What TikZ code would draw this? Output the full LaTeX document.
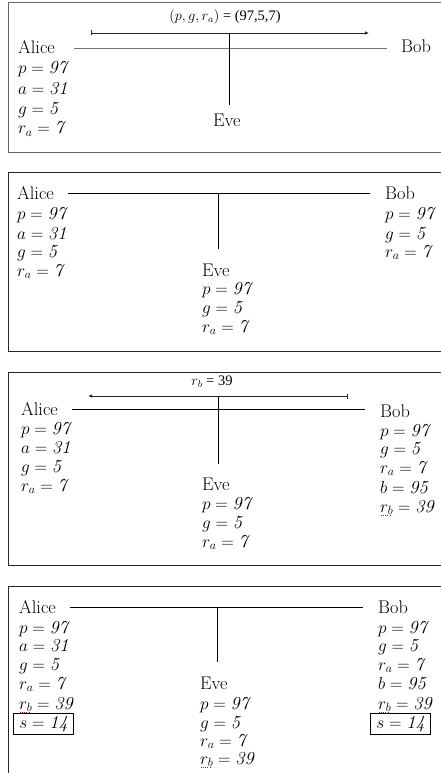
\documentclass[tikz,border=0pt]{standalone}
\usepackage{fontspec}
\newfontfamily\lblfont{Liberation Serif}
\usetikzlibrary{arrows.meta}
% red dotted spelling mark under a math symbol
\newcommand\spellmark[1]{\setbox0\hbox{$#1$}\rlap{\color{red!85!black}\raisebox{-4pt}{\hbox to \wd0{\leaders\hbox to 2.2pt{\hss\rule{1.1pt}{0.9pt}\hss}\hfill}}}\box0}
\newcommand\rb{\spellmark{r_b}}
\begin{document}
\begin{tikzpicture}[x=1pt,y=-1pt,
  every node/.style={inner sep=0pt},
  txt/.style={anchor=base west, font=\fontsize{18.3}{21}\selectfont},
  lbl/.style={anchor=center, font=\fontsize{14.5}{16}\selectfont\lblfont},
  frame/.style={line width=0.9pt, draw=black!85},
  wire/.style={line width=0.9pt, draw=black},
  msg/.style={line width=0.8pt, draw=black!85},
  secret/.style={txt, draw, line width=0.8pt, inner xsep=6pt, inner ysep=2.5pt, text height=12.5pt, text depth=4pt}]
\useasboundingbox (0,0) rectangle (441,773);

% ---------- frames ----------
\draw[frame, draw=black!60] (441,2) -- (8,2) -- (8,152) -- (441,152);
\draw[frame] (441,172.6) -- (8,172.6) -- (8,351) -- (441,351);
\draw[frame] (441,372) -- (8,372) -- (8,565) -- (441,565);
\draw[frame] (441,586) -- (8,586) -- (8,773);

% ---------- step 1: Alice sends (p,g,r_a) ----------
\node[lbl] (m1) at (225,17) {$(p, g, r_a)$ = (97,5,7)};
\coordinate (m1s) at (91,33);
\coordinate (m1e) at (369,33);
\draw[msg, {Bar[width=5pt]}-{Latex[length=4pt,width=3.5pt]}] (m1s) -- (m1e);
\coordinate (w1a) at (74,48);
\coordinate (w1b) at (387,48);
\draw[wire, draw=black!55] (w1a) -- (w1b);
\coordinate (t1) at (229,33);
\coordinate (b1) at (229,105);
\draw[wire] (t1) -- (b1);
\node[txt] (A1) at (18,54) {Alice};
\node[txt] (A1p) at (18,74) {$p = \mathit{97}$};
\node[txt] (A1a) at (18,95) {$a = \mathit{31}$};
\node[txt] (A1g) at (18,114) {$g = \mathit{5}$};
\node[txt] (A1r) at (18,134) {$r_a = \mathit{7}$};
\node[txt] (E1) at (213,126) {Eve};
\node[txt] (B1) at (401,53) {Bob};

% ---------- step 2: everyone knows (p,g,r_a) ----------
\coordinate (w2a) at (68,193);
\coordinate (w2b) at (370,193);
\draw[wire] (w2a) -- (w2b);
\coordinate (t2) at (218,193);
\coordinate (b2) at (218,249);
\draw[wire] (t2) -- (b2);
\node[txt] (A2) at (17,199) {Alice};
\node[txt] (A2p) at (17,219) {$p = \mathit{97}$};
\node[txt] (A2a) at (17,239) {$a = \mathit{31}$};
\node[txt] (A2g) at (17,257) {$g = \mathit{5}$};
\node[txt] (A2r) at (17,276) {$r_a = \mathit{7}$};
\node[txt] (E2) at (202,276) {Eve};
\node[txt] (E2p) at (202,294) {$p = \mathit{97}$};
\node[txt] (E2g) at (202,313) {$g = \mathit{5}$};
\node[txt] (E2r) at (202,332) {$r_a = \mathit{7}$};
\node[txt] (B2) at (385,199) {Bob};
\node[txt] (B2p) at (385,219) {$p = \mathit{97}$};
\node[txt] (B2g) at (385,239) {$g = \mathit{5}$};
\node[txt] (B2r) at (385,257) {$r_a = \mathit{7}$};

% ---------- step 3: Bob sends r_b ----------
\node[lbl] (m3) at (212,382) {$r_b$ = 39};
\coordinate (m3s) at (348,396);
\coordinate (m3e) at (88,396);
\draw[msg, {Bar[width=5pt]}-{Latex[length=4pt,width=3.5pt]}] (m3s) -- (m3e);
\coordinate (w3a) at (72,409);
\coordinate (w3b) at (365,409);
\draw[wire] (w3a) -- (w3b);
\coordinate (t3) at (218,396);
\coordinate (b3) at (218,464);
\draw[wire] (t3) -- (b3);
\node[txt] (A3) at (21,415) {Alice};
\node[txt] (A3p) at (21,434) {$p = \mathit{97}$};
\node[txt] (A3a) at (21,453) {$a = \mathit{31}$};
\node[txt] (A3g) at (21,472) {$g = \mathit{5}$};
\node[txt] (A3r) at (21,491) {$r_a = \mathit{7}$};
\node[txt] (E3) at (202,490) {Eve};
\node[txt] (E3p) at (202,509) {$p = \mathit{97}$};
\node[txt] (E3g) at (202,528) {$g = \mathit{5}$};
\node[txt] (E3r) at (202,547) {$r_a = \mathit{7}$};
\node[txt] (B3) at (380,417) {Bob};
\node[txt] (B3p) at (380,436) {$p = \mathit{97}$};
\node[txt] (B3g) at (380,454) {$g = \mathit{5}$};
\node[txt] (B3r) at (380,473) {$r_a = \mathit{7}$};
\node[txt] (B3b) at (380,493) {$b = \mathit{95}$};
\node[txt] (B3s) at (380,512) {\rb$\; = \mathit{39}$};

% ---------- step 4: shared secret ----------
\coordinate (w4a) at (70,607);
\coordinate (w4b) at (363,607);
\draw[wire] (w4a) -- (w4b);
\coordinate (t4) at (217,607);
\coordinate (b4) at (217,662);
\draw[wire] (t4) -- (b4);
\node[txt] (A4) at (19,613) {Alice};
\node[txt] (A4p) at (19,633) {$p = \mathit{97}$};
\node[txt] (A4a) at (19,651) {$a = \mathit{31}$};
\node[txt] (A4g) at (19,670) {$g = \mathit{5}$};
\node[txt] (A4r) at (19,689) {$r_a = \mathit{7}$};
\node[txt] (A4b) at (19,709) {\rb$\; = \mathit{39}$};
\node[secret] (A4s) at (13,728) {$s = \mathit{14}$};
\node[txt] (E4) at (200,689) {Eve};
\node[txt] (E4p) at (200,709) {$p = \mathit{97}$};
\node[txt] (E4g) at (200,728) {$g = \mathit{5}$};
\node[txt] (E4r) at (200,746) {$r_a = \mathit{7}$};
\node[txt] (E4b) at (200,764) {\rb$\; = \mathit{39}$};
\node[txt] (B4) at (378,613) {Bob};
\node[txt] (B4p) at (378,633) {$p = \mathit{97}$};
\node[txt] (B4g) at (378,651) {$g = \mathit{5}$};
\node[txt] (B4r) at (378,670) {$r_a = \mathit{7}$};
\node[txt] (B4bb) at (378,689) {$b = \mathit{95}$};
\node[txt] (B4b) at (378,709) {\rb$\; = \mathit{39}$};
\node[secret] (B4s) at (370,728) {$s = \mathit{14}$};
\end{tikzpicture}
\end{document}
